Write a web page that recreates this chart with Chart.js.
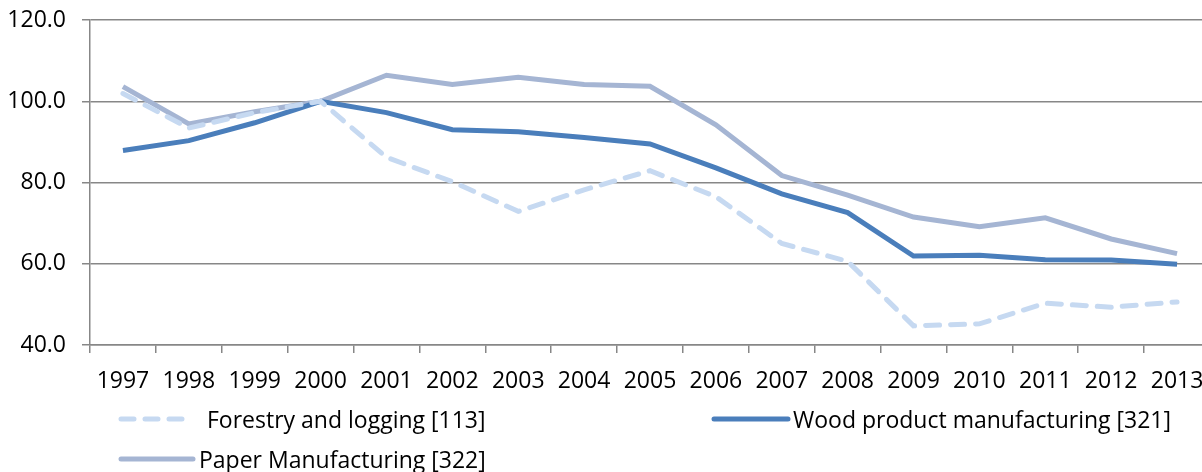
<!DOCTYPE html>
<html>
<head>
<meta charset="utf-8">
<script src="https://cdn.jsdelivr.net/npm/chart.js@4.4.1/dist/chart.umd.min.js"></script>
<style>
  body { margin: 0; overflow: hidden; background: #fff; }
  #wrap { position: relative; width: 1210px; height: 472px; }
  .leg { position: absolute; display: flex; align-items: center; font: 23px "Open Sans", sans-serif; color: #000; white-space: nowrap; }
</style>
</head>
<body>
<div id="wrap">
  <canvas id="grafica" width="1210" height="472"></canvas>
  <div id="leyenda"></div>
</div>
<script>
const years = ['1997','1998','1999','2000','2001','2002','2003','2004','2005','2006','2007','2008','2009','2010','2011','2012','2013'];
const forestry = [101.9, 93.4, 97.2, 100.0, 86.2, 80.2, 72.9, 78.2, 82.9, 76.5, 65.0, 60.6, 44.7, 45.2, 50.3, 49.3, 50.6];
const wood = [87.9, 90.3, 94.7, 100.0, 97.2, 93.0, 92.5, 91.1, 89.5, 83.6, 77.2, 72.6, 61.9, 62.1, 61.0, 60.9, 59.9];
const paper = [103.6, 94.4, 97.4, 100.0, 106.4, 104.1, 105.9, 104.1, 103.7, 94.2, 81.7, 76.9, 71.5, 69.1, 71.3, 66.1, 62.5];
const yTicks = [40, 60, 80, 100, 120];

const fuente = { family: '"Open Sans", sans-serif', size: 23 };
const gris = '#878787';

const ctx = document.getElementById('grafica').getContext('2d');
const chart = new Chart(ctx, {
    type: 'line',
    data: {
        labels: years,
        datasets: [
            {
                label: 'Forestry and logging [113]',
                data: forestry,
                borderColor: '#c6d9f1',
                borderWidth: 5,
                borderDash: [14, 11],
                borderCapStyle: 'round',
                pointRadius: 0,
                tension: 0
            },
            {
                label: 'Wood product manufacturing [321]',
                data: wood,
                borderColor: '#4a7ebb',
                borderWidth: 5,
                pointRadius: 0,
                tension: 0
            },
            {
                label: 'Paper Manufacturing [322]',
                data: paper,
                borderColor: '#a5b5d3',
                borderWidth: 5,
                pointRadius: 0,
                tension: 0
            }
        ]
    },
    options: {
        responsive: false,
        animation: false,
        layout: { padding: { top: 20, right: 0, bottom: 77, left: 0 } },
        plugins: { legend: { display: false }, tooltip: { enabled: false } },
        scales: {
            x: {
                offset: true,
                grid: { offset: true, drawOnChartArea: false, color: gris, lineWidth: 1.5, tickLength: 8 },
                border: { color: gris, width: 1.5 },
                ticks: { color: '#000', font: fuente, padding: 15, maxRotation: 0, autoSkip: false },
                afterFit: s => { s.height = 50; s.paddingLeft = 0; s.paddingRight = 0; }
            },
            y: {
                min: 40,
                max: 120,
                afterBuildTicks: s => { s.ticks = yTicks.map(v => ({ value: v })); },
                grid: { color: gris, lineWidth: 1.5, tickLength: 8 },
                border: { color: gris, width: 1.5 },
                ticks: { color: '#000', font: fuente, padding: 16, callback: v => Number(v).toFixed(1) },
                afterFit: s => { s.width = 90; s.paddingTop = 0; s.paddingBottom = 0; }
            }
        }
    }
});

// leyenda en rejilla, como la original
const posiciones = [
    { left: 118, top: 420, w: 66, gap: 17 },
    { left: 711, top: 420, w: 74, gap: 2 },
    { left: 118, top: 460, w: 72, gap: 3 }
];
const leyenda = document.getElementById('leyenda');
chart.data.datasets.forEach((ds, i) => {
    const p = posiciones[i];
    const item = document.createElement('div');
    item.className = 'leg';
    item.style.left = p.left + 'px';
    item.style.top = (p.top - 17) + 'px';
    item.style.height = '32px';
    const dash = ds.borderDash ? `stroke-dasharray="13 11"` : '';
    item.innerHTML = `<svg width="${p.w + 6}" height="10"><line x1="3" y1="5" x2="${p.w + 3}" y2="5" stroke="${ds.borderColor}" stroke-width="5" stroke-linecap="round" ${dash}/></svg>` +
        `<span style="margin-left:${p.gap}px">${ds.label}</span>`;
    leyenda.appendChild(item);
});
</script>
</body>
</html>
